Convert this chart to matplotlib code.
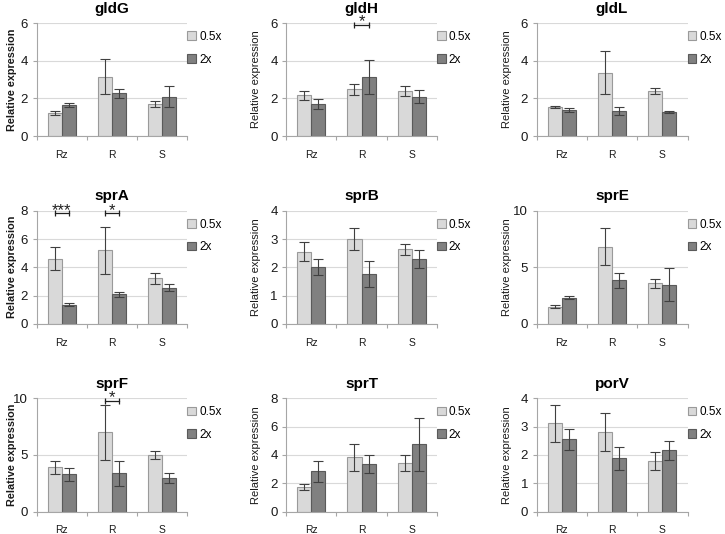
import matplotlib
matplotlib.use('Agg')
import matplotlib.pyplot as plt
from matplotlib.patches import Patch
from matplotlib.ticker import MultipleLocator, FixedLocator, NullFormatter

plt.rcParams['font.family'] = ['Liberation Sans', 'DejaVu Sans']

categories = ['Rz', 'R', 'S']
genes = ['gldG', 'gldH', 'gldL', 'sprA', 'sprB', 'sprE', 'sprF', 'sprT', 'porV']
series = ['0.5x', '2x']

mean_05 = [[1.23, 3.16, 1.72], [2.17, 2.49, 2.40], [1.55, 3.37, 2.42],
           [4.60, 5.21, 3.21], [2.55, 2.99, 2.64], [1.53, 6.81, 3.57],
           [3.89, 6.99, 4.96], [1.72, 3.82, 3.40], [3.12, 2.81, 1.78]]
err_05 = [[0.10, 0.92, 0.16], [0.25, 0.30, 0.28], [0.07, 1.15, 0.16],
          [0.80, 1.65, 0.41], [0.33, 0.39, 0.20], [0.15, 1.62, 0.40],
          [0.60, 2.42, 0.35], [0.19, 0.93, 0.57], [0.65, 0.67, 0.32]]
mean_2 = [[1.67, 2.27, 2.10], [1.69, 3.14, 2.10], [1.40, 1.35, 1.30],
          [1.37, 2.08, 2.57], [2.01, 1.77, 2.28], [2.33, 3.86, 3.48],
          [3.27, 3.36, 2.92], [2.85, 3.35, 4.74], [2.56, 1.88, 2.16]]
err_2 = [[0.11, 0.25, 0.54], [0.26, 0.91, 0.34], [0.12, 0.22, 0.05],
         [0.12, 0.15, 0.22], [0.28, 0.45, 0.32], [0.15, 0.65, 1.47],
         [0.56, 1.08, 0.44], [0.75, 0.63, 1.90], [0.37, 0.40, 0.34]]
y_max = [6, 6, 6, 8, 4, 10, 10, 8, 4]
y_step = [2, 2, 2, 2, 1, 5, 5, 2, 1]

sig_gene = ['gldH', 'sprA', 'sprA', 'sprF']
sig_cat = [1, 0, 1, 1]
sig_y = [5.9, 7.81, 7.81, 9.79]
sig_text = ['*', '***', '*', '*']

W, H = 725, 534
fig = plt.figure(figsize=(W / 100, H / 100), dpi=100)

col_left = [36.5, 286.0, 536.5]
row_top = [23.0, 210.7, 398.3]
ax_w, ax_h = 151.0, 113.2
ylab_x = [-0.13, -0.165, -0.162]

c05, c2 = '#d9d9d9', '#808080'
e05, e2 = '#9a9a9a', '#5a5a5a'
spine_c = '#a6a6a6'
bw = 0.28

for i, g in enumerate(genes):
    r, c = divmod(i, 3)
    ax = fig.add_axes([col_left[c] / W, 1 - (row_top[r] + ax_h) / H, ax_w / W, ax_h / H])
    xs = [k + 0.5 for k in range(len(categories))]
    ax.bar([x - bw / 2 for x in xs], mean_05[i], width=bw, color=c05, edgecolor=e05,
           linewidth=0.8, zorder=2, label=series[0])
    ax.bar([x + bw / 2 for x in xs], mean_2[i], width=bw, color=c2, edgecolor=e2,
           linewidth=0.8, zorder=2, label=series[1])
    ax.errorbar([x - bw / 2 for x in xs], mean_05[i], yerr=err_05[i], fmt='none',
                ecolor='#404040', elinewidth=0.8, capsize=3.5, capthick=0.8, zorder=3)
    ax.errorbar([x + bw / 2 for x in xs], mean_2[i], yerr=err_2[i], fmt='none',
                ecolor='#404040', elinewidth=0.8, capsize=3.5, capthick=0.8, zorder=3)

    ax.set_xlim(0, len(categories))
    ax.set_ylim(0, y_max[i])
    ax.yaxis.set_major_locator(MultipleLocator(y_step[i]))
    ax.grid(axis='y', color='#d9d9d9', linewidth=0.8, zorder=0)
    ax.set_axisbelow(True)
    ax.xaxis.set_major_locator(FixedLocator(list(range(len(categories) + 1))))
    ax.xaxis.set_major_formatter(NullFormatter())
    ax.set_xticks(xs, categories, minor=True)
    ax.tick_params(axis='x', which='major', length=3, color=spine_c, width=0.8)
    ax.tick_params(axis='x', which='minor', length=0, pad=10, labelsize=7.5, colors='#1a1a1a')
    ax.tick_params(axis='y', length=3, color=spine_c, width=0.8, labelsize=9.5,
                   labelcolor='#1a1a1a', pad=3)
    for s in ['top', 'right']:
        ax.spines[s].set_visible(False)
    for s in ['left', 'bottom']:
        ax.spines[s].set_color(spine_c)
        ax.spines[s].set_linewidth(0.8)

    ax.set_title(g, fontsize=11, fontweight='bold', pad=7.5)
    ax.set_ylabel('Relative expression', fontsize=8 if c else 7.8,
                  fontweight='bold' if c == 0 else 'normal', color='#1a1a1a')
    ax.yaxis.set_label_coords(ylab_x[c], 0.5)

    ax.legend(handles=[Patch(facecolor=c05, edgecolor=e05, linewidth=0.8),
                       Patch(facecolor=c2, edgecolor=e2, linewidth=0.8)],
              labels=series, loc='upper left', bbox_to_anchor=(1.0, 0.93),
              frameon=False, fontsize=8.5, handlelength=0.75, handleheight=0.75,
              handletextpad=0.25, labelspacing=0.9, borderaxespad=0.0,
              borderpad=0.0)

    for gg, cat, yy, tt in zip(sig_gene, sig_cat, sig_y, sig_text):
        if gg != g:
            continue
        x0, x1 = xs[cat] - bw / 2, xs[cat] + bw / 2
        ax.plot([x0, x1], [yy, yy], color='#202020', lw=0.9, clip_on=False, zorder=4)
        ax.plot([x0, x1], [yy, yy], ls='none', marker='|', ms=5, mew=0.9,
                color='#202020', clip_on=False, zorder=4)
        ax.annotate(tt, xy=((x0 + x1) / 2, yy), xytext=(0, -1.0), textcoords='offset points',
                    ha='center', va='baseline', fontsize=12, color='#202020',
                    annotation_clip=False, zorder=5)

fig.savefig('out.png', dpi=100)
